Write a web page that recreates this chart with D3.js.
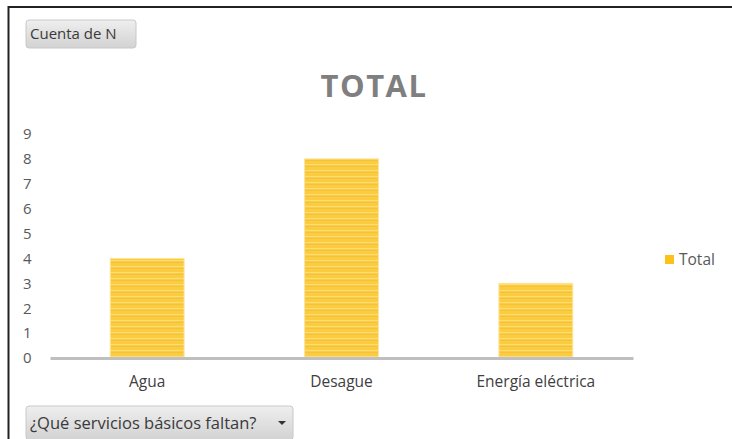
<!DOCTYPE html>
<html>
<head>
<meta charset="utf-8">
<script src="https://cdn.jsdelivr.net/npm/d3@7"></script>
<style>
  body { margin: 0; background: #fff; }
  svg { display: block; font-family: "Open Sans", "Noto Sans", sans-serif; }
</style>
</head>
<body>
<svg class="chart" width="732" height="439"></svg>
<script>
var categories = ["Agua", "Desague", "Energía eléctrica"];
var totals = [4, 8, 3];
var yTicks = [0, 1, 2, 3, 4, 5, 6, 7, 8, 9];
var seriesName = "Total";

var svg = d3.select(".chart");

// frame (only top and left edges show in the picture)
svg.append("line").attr("x1", 8).attr("y1", 7).attr("x2", 732).attr("y2", 7)
    .attr("stroke", "#222").attr("stroke-width", 2);
svg.append("line").attr("x1", 8.5).attr("y1", 6).attr("x2", 8.5).attr("y2", 439)
    .attr("stroke", "#222").attr("stroke-width", 2);

var defs = svg.append("defs");
var btnGrad = defs.append("linearGradient").attr("id", "btn").attr("x1", 0).attr("y1", 0).attr("x2", 0).attr("y2", 1);
btnGrad.append("stop").attr("offset", "0%").attr("stop-color", "#efefef");
btnGrad.append("stop").attr("offset", "100%").attr("stop-color", "#d2d2d2");

var stripes = defs.append("pattern").attr("id", "stripes")
    .attr("patternUnits", "userSpaceOnUse").attr("width", 10).attr("height", 6);
stripes.append("rect").attr("width", 10).attr("height", 6).attr("fill", "#fbcb40");
stripes.append("rect").attr("y", 2).attr("width", 10).attr("height", 1).attr("fill", "#fddc7c");
stripes.append("rect").attr("y", 4).attr("width", 10).attr("height", 1).attr("fill", "#f4c33a");

function button(x, y, w, h, label, fs, arrow) {
    var g = svg.append("g").attr("transform", "translate(" + x + "," + y + ")");
    g.append("rect").attr("width", w).attr("height", h).attr("rx", 3)
        .attr("fill", "url(#btn)").attr("stroke", "#c8c8c8");
    g.append("text").attr("x", 4).attr("y", h / 2 + fs * 0.36)
        .attr("font-size", fs).attr("fill", "#3a3a3a").text(label);
    if (arrow) {
        g.append("path").attr("d", "M" + (w - 15) + "," + (h / 2 - 2) + "l8,0l-4,4z").attr("fill", "#333");
    }
}
button(26, 20, 110, 28, "Cuenta de N", 15, false);
button(26, 406, 267, 34, "¿Qué servicios básicos faltan?", 16.5, true);

svg.append("text").attr("x", 374).attr("y", 97).attr("text-anchor", "middle")
    .attr("font-size", 31).attr("font-weight", "bold").attr("fill", "#7f7f7f")
    .attr("letter-spacing", 1.5).text("TOTAL");

var x0 = 50, x1 = 633, yTop = 134, yBase = 358;
var xScale = d3.scaleBand().domain(categories).range([x0, x1]).paddingInner(0.62).paddingOuter(0.31);
var yScale = d3.scaleLinear().domain([0, 9]).range([yBase, yTop]);

var yAxis = svg.append("g").attr("transform", "translate(23,0)")
    .call(d3.axisRight(yScale).tickValues(yTicks).tickSize(0).tickPadding(0));
yAxis.select(".domain").remove();
yAxis.selectAll("text").attr("font-size", 15).attr("fill", "#595959")
    .attr("font-family", "\"Open Sans\", sans-serif");

svg.selectAll("rect.bar")
    .data(totals)
    .enter()
    .append("rect")
    .attr("class", "bar")
    .attr("x", function(d, i) { return xScale(categories[i]); })
    .attr("y", function(d) { return yScale(d); })
    .attr("width", xScale.bandwidth())
    .attr("height", function(d) { return yBase - yScale(d); })
    .attr("fill", "url(#stripes)")
    .attr("stroke", "#fde49a").attr("stroke-width", 1);

var xAxis = svg.append("g").attr("transform", "translate(0," + yBase + ")")
    .call(d3.axisBottom(xScale).tickSize(0).tickPadding(18));
xAxis.select(".domain").attr("stroke", "#bfbfbf").attr("stroke-width", 3);
xAxis.selectAll("text").attr("font-size", 15.5).attr("fill", "#404040")
    .attr("font-family", "\"Open Sans\", sans-serif");

var legend = svg.append("g").attr("transform", "translate(665,255)");
legend.append("rect").attr("width", 9).attr("height", 9).attr("fill", "#fcc21b");
legend.append("text").attr("x", 14).attr("y", 10).attr("font-size", 15.5).attr("fill", "#595959").text(seriesName);
</script>
</body>
</html>
